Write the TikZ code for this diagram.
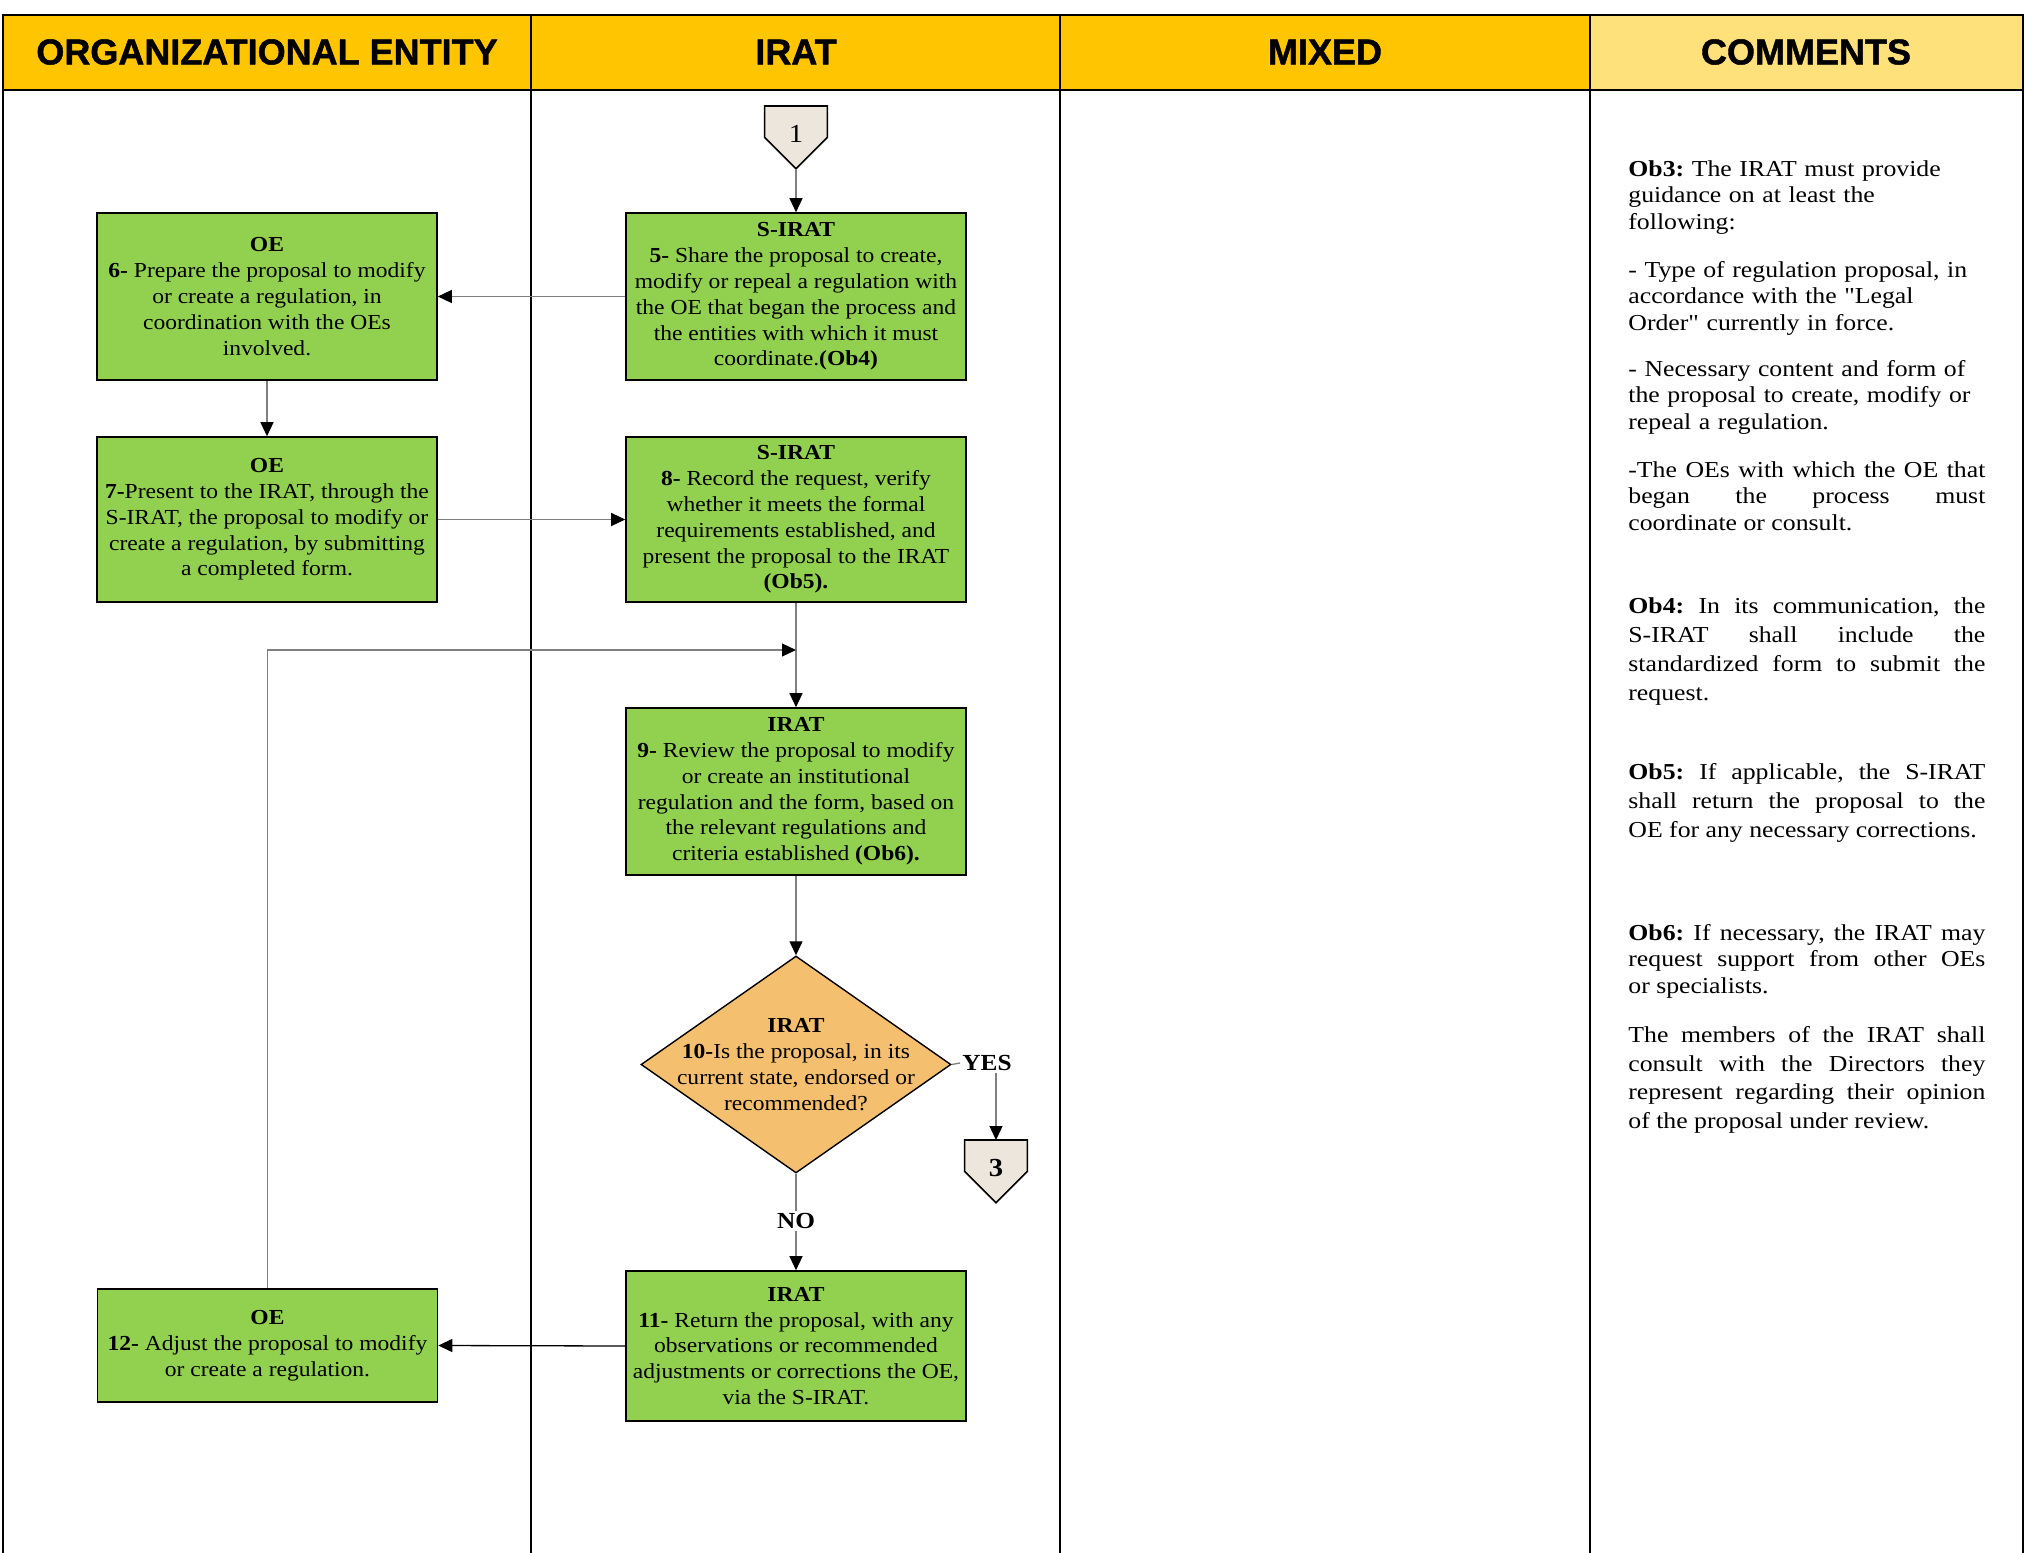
\documentclass[tikz,border=0pt]{standalone}
\usepackage{fontspec}
\setmainfont[FakeStretch=1.1]{Liberation Serif}
\newfontfamily\notefont[FakeStretch=1.13,Ligatures=TeXOff]{Liberation Serif}
\newfontfamily\hdrfont[BoldFeatures={FakeBold=1.2}]{Liberation Sans}
\usetikzlibrary{arrows.meta,shapes.geometric,shadows,positioning}

\pgfdeclarelayer{bg}
\pgfsetlayers{bg,main}

\definecolor{hdrgold}{HTML}{FFC600}
\definecolor{hdrlight}{HTML}{FFE17B}
\definecolor{taskgreen}{HTML}{92D050}
\definecolor{askorange}{HTML}{F5BF70}
\definecolor{pagefill}{HTML}{EDE6DC}
\definecolor{flowgray}{HTML}{7F7F7F}

\tikzset{
  task/.style={draw=black,line width=0.8pt,fill=taskgreen,align=center,
    minimum width=170pt,minimum height=83.5pt,inner sep=2pt,
    drop shadow={shadow xshift=0.3pt,shadow yshift=-0.7pt,fill=black!80},
    font=\fontsize{10.7}{12.9}\selectfont},
  ask/.style={shape=diamond,draw=black,line width=0.7pt,fill=askorange,
    minimum width=155pt,minimum height=108.5pt,inner sep=0pt},
  offpage/.style={minimum width=31pt,minimum height=31pt,inner sep=0pt,
    font=\fontsize{13}{14}\selectfont},
  pageshape/.style={draw=black,line width=0.8pt,fill=pagefill,line join=miter},
  flow/.style={draw=flowgray,line width=0.65pt,-{Triangle[length=7pt,width=6.5pt,black]}},
  flowline/.style={draw=flowgray,line width=0.65pt},
  hdr/.style={font=\hdrfont\bfseries\fontsize{18}{20}\selectfont},
  note/.style={anchor=north west,text width=178.5pt,inner sep=0pt,
    font=\notefont\fontsize{11.4}{13.2}\selectfont},
  answer/.style={inner sep=1pt,font=\bfseries\fontsize{11.5}{13}\selectfont},
}

\begin{document}
\frenchspacing
\begin{tikzpicture}[x=0.5pt,y=-0.5pt]
\useasboundingbox (0,0) rectangle (2026,1553);

% swimlanes
\fill[hdrgold] (3,15) rectangle (1590,90);
\fill[hdrlight] (1590,15) rectangle (2023,90);
\draw[line width=1.1pt] (3,1553) -- (3,15) -- (2023,15) -- (2023,1553);
\draw[line width=1.1pt] (3,90) -- (2023,90);
\foreach \x in {531,1060,1590}
  \draw[line width=1.1pt] (\x,15) -- (\x,1553);

\node[hdr] (hoe) at (267,52) {ORGANIZATIONAL ENTITY};
\node[hdr] (hirat) at (796,52) {IRAT};
\node[hdr] (hmixed) at (1325,52) {MIXED};
\node[hdr] (hcomm) at (1806,52) {COMMENTS};

% flow
\node[offpage,anchor=north] (c1) at (796,106) {\raisebox{3.5pt}{1}};
\node[task] (b5) at (796,296.5) {\textbf{S-IRAT}\\
  \textbf{5-} Share the proposal to create,\\
  modify or repeal a regulation with\\
  the OE that began the process and\\
  the entities with which it must\\
  coordinate.\textbf{(Ob4)}};
\node[task] (b6) at (267,296.5) {\textbf{OE}\\
  \textbf{6-} Prepare the proposal to modify\\
  or create a regulation, in\\
  coordination with the OEs\\
  involved.};
\node[task,minimum height=82.5pt] (b7) at (267,519.5) {\textbf{OE}\\
  \textbf{7-}Present to the IRAT, through the\\
  S-IRAT, the proposal to modify or\\
  create a regulation, by submitting\\
  a completed form.};
\node[task,minimum height=82.5pt] (b8) at (796,519.5) {\textbf{S-IRAT}\\
  \textbf{8-} Record the request, verify\\
  whether it meets the formal\\
  requirements established, and\\
  present the proposal to the IRAT\\
  \textbf{(Ob5).}};
\node[task] (b9) at (796,791.5) {\textbf{IRAT}\\
  \textbf{9-} Review the proposal to modify\\
  or create an institutional\\
  regulation and the form, based on\\
  the relevant regulations and\\
  criteria established \textbf{(Ob6).}};
\node[ask,label={[align=center,font=\fontsize{10.7}{12.9}\selectfont]center:{\textbf{IRAT}\\
  \textbf{10-}Is the proposal, in its\\
  current state, endorsed or\\
  recommended?}}] (d10) at (796,1064.5) {};
\node[answer] (yes) at (987,1063) {YES};
\node[offpage,anchor=north,font=\bfseries\fontsize{13}{14}\selectfont] (c3) at (996,1140) {\raisebox{3.5pt}{3}};
\node[answer] (no) at (796,1221) {NO};
\node[task,minimum height=75pt] (b11) at (796,1346) {\textbf{IRAT}\\
  \textbf{11-} Return the proposal, with any\\
  observations or recommended\\
  adjustments or corrections the OE,\\
  via the S-IRAT.};
\node[task,minimum height=56.5pt] (b12) at (267.5,1345.5) {\textbf{OE}\\
  \textbf{12-} Adjust the proposal to modify\\
  or create a regulation.};
\coordinate (join) at (796,650);

% off-page connectors
\begin{pgfonlayer}{bg}
\foreach \c in {c1,c3}
  \draw[pageshape] (\c.north west) -- (\c.north east) -- (\c.east)
    -- (\c.south) -- (\c.west) -- cycle;
\end{pgfonlayer}

\draw[flow] (c1) -- (b5);
\draw[flow] (b5.west) -- (b6.east);
\draw[flow] (b6) -- (b7);
\draw[flow] (b7.east) -- (b8.west);
\draw[flow] (b8) -- (b9);
\draw[flow] (b9) -- (d10);
\draw[flowline] (d10.south) -- (no);
\draw[flow] (no) -- (b11);
\draw[flowline] (d10.east) -- (yes.west);
\draw[flow] (yes.south -| c3.north) -- (c3.north);
\draw[flow,draw=black] (b11.west) -- (b12.east);
\draw[flow] (b12.north) |- (join);

% comments
\node[note,align=left] (ob3) at (1628,160) {\textbf{Ob3:} The IRAT must provide\\
  guidance on at least the\\ following:};
\node[note,align=left] (ob3a) at (1628,261) {- Type of regulation proposal, in\\
  accordance with the "Legal\\ Order" currently in force.};
\node[note,align=left] (ob3b) at (1628,360) {- Necessary content and form of\\
  the proposal to create, modify or\\ repeal a regulation.};
\node[note,align=justify] (ob3c) at (1628,461) {-The OEs with which the OE that\linebreak
  began the process must\linebreak coordinate or consult.};
\node[note,align=justify,font=\notefont\fontsize{11.4}{14.6}\selectfont] (ob4) at (1628,597) {\textbf{Ob4:} In its communication, the\linebreak
  \mbox{S-IRAT} shall include the\linebreak standardized form to submit the\linebreak request.};
\node[note,align=justify,font=\notefont\fontsize{11.4}{14.6}\selectfont] (ob5) at (1628,763) {\textbf{Ob5:} If applicable, the \mbox{S-IRAT}\linebreak
  shall return the proposal to the\linebreak OE for any necessary corrections.};
\node[note,align=justify] (ob6) at (1628,924) {\textbf{Ob6:} If necessary, the IRAT may\linebreak
  request support from other OEs\linebreak or specialists.};
\node[note,align=justify,font=\notefont\fontsize{11.4}{14.3}\selectfont] (ob6a) at (1628,1026) {The members of the IRAT shall\linebreak
  consult with the Directors they\linebreak represent regarding their opinion\linebreak
  of the proposal under review.};

\end{tikzpicture}
\end{document}
